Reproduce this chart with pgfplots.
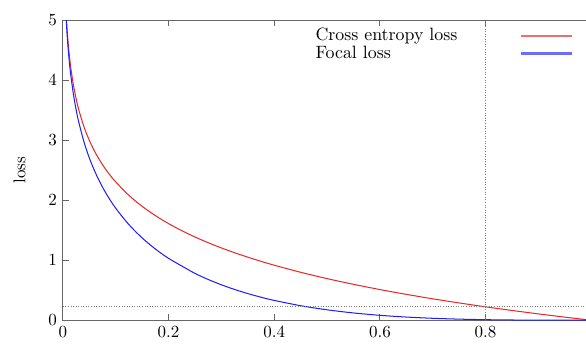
\documentclass[border=0pt]{standalone}
\usepackage{pgfplots}
\pgfplotsset{compat=1.18}
\definecolor{cered}{RGB}{232,40,40}
\definecolor{flblue}{RGB}{30,30,245}
\definecolor{cered2}{RGB}{236,110,110}
\definecolor{flblue2}{RGB}{110,110,250}
\pgfplotstableread{
p ce fl
0.005 5.2983 5.2455
0.0075 4.8929 4.8198
0.01 4.6052 4.5136
0.0125 4.3820 4.2731
0.015 4.1997 4.0747
0.02 3.9120 3.7571
0.025 3.6889 3.5068
0.03 3.5066 3.2994
0.04 3.2189 2.9665
0.05 2.9957 2.7036
0.06 2.8134 2.4859
0.07 2.6593 2.3000
0.08 2.5257 2.1378
0.09 2.4079 1.9940
0.1 2.3026 1.8651
0.12 2.1203 1.6420
0.14 1.9661 1.4541
0.16 1.8326 1.2931
0.18 1.7148 1.1530
0.2 1.6094 1.0300
0.225 1.4917 0.9025
0.25 1.3863 0.7798
0.275 1.2910 0.6785
0.3 1.2040 0.5900
0.325 1.1239 0.5121
0.35 1.0498 0.4435
0.375 0.9808 0.3831
0.4 0.9163 0.3299
0.45 0.7985 0.2415
0.5 0.6931 0.1733
0.55 0.5978 0.1211
0.6 0.5108 0.0817
0.65 0.4308 0.0528
0.7 0.3567 0.0321
0.75 0.2877 0.0180
0.8 0.2231 0.0089
0.85 0.1625 0.0037
0.9 0.1054 0.0011
0.95 0.0513 0.0001
1.0 0.0000 0.0000
}\losstab
\begin{document}
\begin{tikzpicture}
\begin{axis}[
  scale only axis, width=310.7pt, height=176.5pt,
  at={(0,0)}, anchor=south west,
  xmin=0, xmax=1, ymin=0, ymax=5,
  axis line style={black!60, line width=0.6pt},
  xtick={0,0.2,0.4,0.6,0.8}, ytick={0,1,2,3,4,5},
  minor tick num=0,
  tick align=inside,
  major tick length=3.5pt,
  major tick style={draw=black!60, line width=0.6pt},
  xtick pos=both, ytick pos=left,
  ylabel={loss},
  ylabel style={at={(axis description cs:-0.082,0.5)}, anchor=center},
  legend style={draw=none, fill=none, at={(axis description cs:0.471,0.985)}, anchor=north west, row sep=-2.5pt, column sep=35pt, inner sep=0pt, font=\fontsize{10.5pt}{12.6pt}\selectfont},
  legend plot pos=right, legend cell align=left,
]
\addplot[cered, line width=0.6pt, smooth, legend image code/.code={\draw[cered2, line width=1.3pt] (0pt,0pt) -- (29.5pt,0pt);}] table[x=p, y=ce] {\losstab};
\addlegendentry{Cross entropy loss}
\addplot[flblue, line width=0.6pt, smooth, legend image code/.code={\draw[flblue2, line width=1.3pt] (0pt,0pt) -- (29.5pt,0pt);}] table[x=p, y=fl] {\losstab};
\addlegendentry{Focal loss}
\addplot[gray, densely dotted, line width=0.5pt, forget plot] coordinates {(0.8,0) (0.8,5)};
\addplot[gray, densely dotted, line width=0.5pt, forget plot] coordinates {(0,0.2231) (1,0.2231)};
\end{axis}
\pgfresetboundingbox
\useasboundingbox (-37pt,-13.5pt) rectangle (307.6pt,188.3pt);
\end{tikzpicture}
\end{document}
